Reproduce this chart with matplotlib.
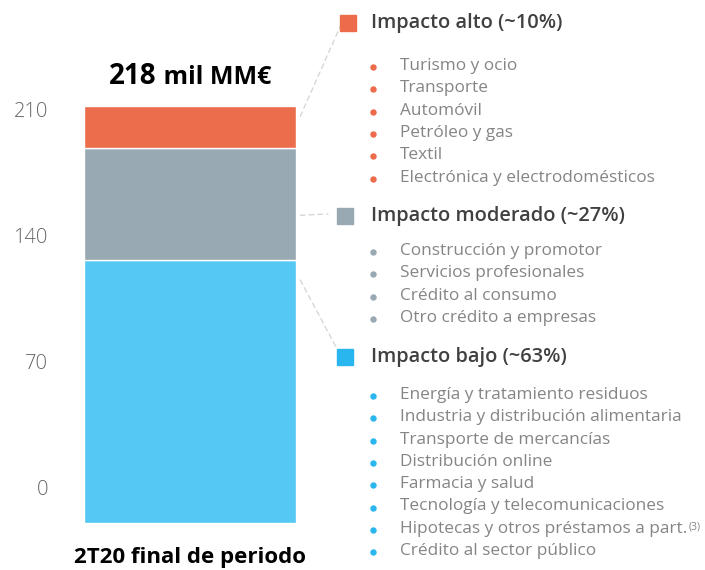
import matplotlib.pyplot as plt
from matplotlib.patches import Rectangle, ConnectionPatch
from matplotlib.lines import Line2D

W, H = 705, 570

# cartera total (mil MM€) y reparto por nivel de impacto
total = 218
niveles = ["Impacto bajo", "Impacto moderado", "Impacto alto"]
pesos = [63, 27, 10]
valores = [total * p / 100 for p in pesos]
ticks = [0, 70, 140, 210]
periodo = "2T20 final de periodo"

items_alto = ["Turismo y ocio", "Transporte", "Automóvil", "Petróleo y gas",
              "Textil", "Electrónica y electrodomésticos"]
items_moderado = ["Construcción y promotor", "Servicios profesionales",
                  "Crédito al consumo", "Otro crédito a empresas"]
items_bajo = ["Energía y tratamiento residuos", "Industria y distribución alimentaria",
              "Transporte de mercancías", "Distribución online", "Farmacia y salud",
              "Tecnología y telecomunicaciones", "Hipotecas y otros préstamos a part.",
              "Crédito al sector público"]

col_bar = {"Impacto bajo": "#55C8F3", "Impacto moderado": "#98A9B3", "Impacto alto": "#EB6D4B"}
col_key = {"Impacto bajo": "#29B6EE", "Impacto moderado": "#98A9B3", "Impacto alto": "#EC6B4A"}

plt.rcParams['font.family'] = ['Open Sans', 'DejaVu Sans']


def fx(x):
    return x / W


def fy(y):
    return 1 - y / H


fig = plt.figure(figsize=(W / 100, H / 100), dpi=100)

# eje de la barra: 0..total entre y=523 px y y=106 px
ax = fig.add_axes([fx(84), fy(523), (296 - 84) / W, (523 - 106) / H])
bottom = 0
seg = {}
for n, v in zip(niveles, valores):
    ax.bar(0, v, bottom=bottom, width=1, color=col_bar[n], edgecolor="white", linewidth=1)
    seg[n] = (bottom, bottom + v)
    bottom += v
ax.set_xlim(-0.5, 0.5)
ax.set_ylim(0, total)
ax.axis("off")

# escala de referencia a la izquierda
axt = fig.add_axes([fx(84), fy(523), (296 - 84) / W, (523 - 106) / H], frameon=False)
axt.set_ylim(-20, 211.7)
axt.set_yticks(ticks)
axt.set_yticklabels([str(t) for t in ticks], fontsize=14.5, color="#666666", fontweight="light")
axt.tick_params(axis="y", length=0, pad=26)
axt.set_xticks([])
axt.patch.set_visible(False)

# titulo y etiqueta de periodo
t1 = fig.text(fx(109), fy(76), "218", fontsize=20, fontweight="bold", color="black", va="center")
fig.canvas.draw()
b1 = t1.get_window_extent()
fig.text(b1.x1 / W, fy(77), " mil MM€", fontsize=18, fontweight="bold", color="black",
         va="center")
fig.text(fx(190), fy(557), periodo, fontsize=16, fontweight="bold", color="black",
         ha="center", va="center")

# bloques de la leyenda
bloques = [
    ("Impacto alto", "Impacto alto (~10%)", items_alto, 340, 23, 66),
    ("Impacto moderado", "Impacto moderado (~27%)", items_moderado, 337, 216, 251),
    ("Impacto bajo", "Impacto bajo (~63%)", items_bajo, 337, 357, 395),
]
paso = 22.3
textos = {}
for n, cab, items, xs, yc, y0 in bloques:
    fig.patches.append(Rectangle((fx(xs), fy(yc + 8)), 16 / W, 16 / H,
                                 transform=fig.transFigure, color=col_key[n]))
    fig.text(fx(371), fy(yc), cab, fontsize=14.4, fontweight="semibold", color="#404040",
             va="center")
    for i, it in enumerate(items):
        y = y0 + i * paso
        fig.add_artist(Line2D([fx(373)], [fy(y + 1)], marker="o", markersize=3.6,
                              color=col_key[n], transform=fig.transFigure))
        textos[it] = fig.text(fx(400), fy(y), it, fontsize=12.4, color="#858585", va="center")

nota = textos["Hipotecas y otros préstamos a part."]
fig.canvas.draw()
bb = nota.get_window_extent()
fig.text(bb.x1 / W + 1 / W, (bb.y1 - 1) / H, "(3)", fontsize=7.5, color="#858585", va="top")

# lineas guia entre la barra y la leyenda
guias = [
    ("Impacto alto", 0.75, (340, 27)),
    ("Impacto moderado", 0.4, (328, 214)),
    ("Impacto bajo", 0.925, (336, 347)),
]
for n, frac, (px, py) in guias:
    b0, b1_ = seg[n]
    yd = b0 + frac * (b1_ - b0)
    cp = ConnectionPatch(xyA=(0.52, yd), coordsA=ax.transData,
                         xyB=(fx(px), fy(py)), coordsB=fig.transFigure,
                         color="#D3D3D3", linestyle=(0, (4, 3)), linewidth=0.9)
    fig.add_artist(cp)

fig.savefig("out.png", dpi=100)
